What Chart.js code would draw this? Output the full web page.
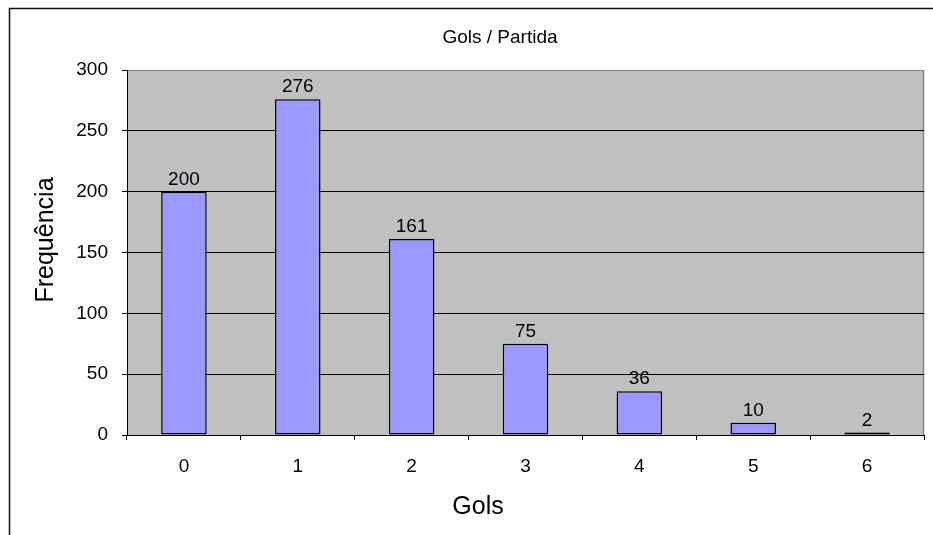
<!DOCTYPE html>
<html lang="pt">
<head>
<meta charset="utf-8">
<title>Gols / Partida</title>
<script src="https://cdn.jsdelivr.net/npm/chart.js@4.4.1/dist/chart.umd.min.js"></script>
<style>
  html, body { margin: 0; padding: 0; background: #fff; overflow: hidden; }
  canvas { display: block; }
</style>
</head>
<body>
<canvas id="golsChart" width="933" height="535"></canvas>
<script>
// dados
const gols = ['0', '1', '2', '3', '4', '5', '6'];
const frequencia = [200, 276, 161, 75, 36, 10, 2];
const yTicks = [0, 50, 100, 150, 200, 250, 300];

const titulo = 'Gols / Partida';
const tituloX = 'Gols';
const tituloY = 'Frequência';
const fonte = "'Liberation Sans', Arial, sans-serif";

// fundo cinza da area de plotagem + moldura do grafico
const fundoExcel = {
    id: 'fundoExcel',
    beforeDraw(chart) {
        const { ctx, chartArea: a } = chart;
        ctx.save();
        ctx.fillStyle = '#fff';
        ctx.fillRect(0, 0, chart.width, chart.height);
        ctx.strokeStyle = '#111';
        ctx.lineWidth = 1.5;
        ctx.strokeRect(9.5, 8.5, chart.width + 20, chart.height + 20);
        ctx.fillStyle = '#c0c0c0';
        ctx.fillRect(a.left, a.top, a.right - a.left, a.bottom - a.top);
        ctx.strokeStyle = '#808080';
        ctx.lineWidth = 1.5;
        ctx.beginPath();
        ctx.moveTo(a.right - 0.5, a.top);
        ctx.lineTo(a.right - 0.5, a.bottom);
        ctx.stroke();
        ctx.restore();
    }
};

// valores em cima das barras
const rotulos = {
    id: 'rotulos',
    afterDatasetsDraw(chart) {
        const { ctx } = chart;
        const meta = chart.getDatasetMeta(0);
        ctx.save();
        ctx.font = `19px ${fonte}`;
        ctx.fillStyle = '#000';
        ctx.textAlign = 'center';
        ctx.textBaseline = 'alphabetic';
        meta.data.forEach((bar, i) => {
            ctx.fillText(String(frequencia[i]), bar.x, bar.y - 7);
        });
        ctx.restore();
    }
};

// titulos (posicionados como no Excel)
const titulos = {
    id: 'titulos',
    afterDraw(chart) {
        const { ctx } = chart;
        ctx.save();
        ctx.fillStyle = '#000';
        ctx.textAlign = 'center';
        ctx.textBaseline = 'middle';
        ctx.font = `19px ${fonte}`;
        ctx.fillText(titulo, 500, 38);
        ctx.font = `25px ${fonte}`;
        ctx.fillText(tituloX, 478, 507);
        ctx.translate(46, 240);
        ctx.rotate(-Math.PI / 2);
        ctx.fillText(tituloY, 0, 0);
        ctx.restore();
    }
};

const ctx = document.getElementById('golsChart');

new Chart(ctx, {
    type: 'bar',
    data: {
        labels: gols,
        datasets: [{
            label: tituloY,
            data: frequencia,
            backgroundColor: '#9999ff',
            borderColor: '#000',
            borderWidth: 1.5,
            borderSkipped: false,
            barPercentage: 0.4,
            categoryPercentage: 1
        }]
    },
    options: {
        responsive: false,
        animation: false,
        layout: {
            padding: { left: 10, right: 9, top: 70, bottom: 60 }
        },
        plugins: {
            legend: { display: false },
            title: { display: false },
            tooltip: { enabled: false }
        },
        scales: {
            x: {
                offset: true,
                grid: {
                    offset: true,
                    drawOnChartArea: false,
                    tickLength: 5,
                    color: '#000'
                },
                border: { color: '#000' },
                ticks: {
                    color: '#000',
                    padding: 15,
                    font: { family: fonte, size: 19 }
                },
                afterFit(scale) { scale.height = 40; }
            },
            y: {
                min: yTicks[0],
                max: yTicks[yTicks.length - 1],
                grid: {
                    color: (c) => c.tick && c.tick.value === yTicks[yTicks.length - 1] ? '#808080' : '#000',
                    tickColor: '#000',
                    tickLength: 5
                },
                border: { color: '#000' },
                ticks: {
                    stepSize: yTicks[1] - yTicks[0],
                    color: '#000',
                    padding: 14,
                    font: { family: fonte, size: 19 }
                },
                afterFit(scale) { scale.width = 117; }
            }
        }
    },
    plugins: [fundoExcel, rotulos, titulos]
});
</script>
</body>
</html>
